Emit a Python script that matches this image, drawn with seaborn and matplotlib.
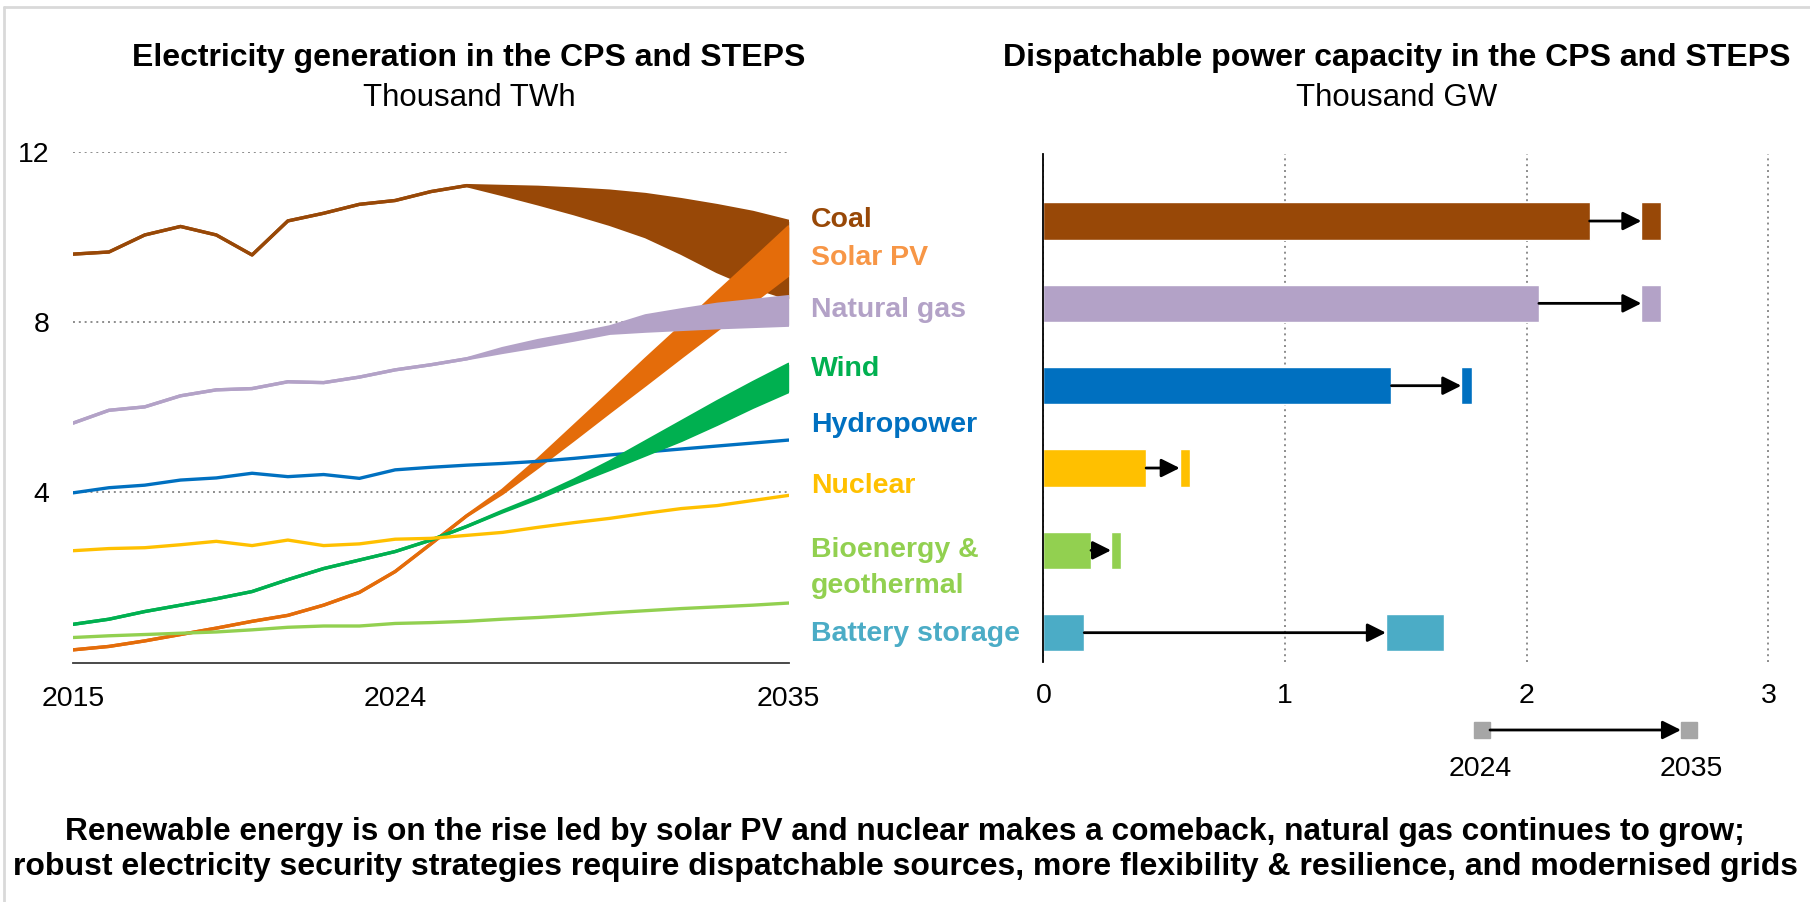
"""Electricity generation and dispatchable capacity, CPS vs STEPS."""
import matplotlib
matplotlib.use("Agg")
import matplotlib.pyplot as plt
import seaborn as sns
from matplotlib.lines import Line2D
from matplotlib.patches import Rectangle, FancyArrowPatch

# ---- left panel data (thousand TWh) ----
years = list(range(2015, 2036))

coal_cps = [9.60, 9.65, 10.05, 10.25, 10.05, 9.58, 10.38, 10.56, 10.77, 10.86, 11.07,
            11.21, 11.19, 11.17, 11.13, 11.08, 11.00, 10.88, 10.74, 10.58, 10.37]
coal_steps = [9.60, 9.65, 10.05, 10.25, 10.05, 9.58, 10.38, 10.56, 10.77, 10.86, 11.07,
              11.21, 11.00, 10.78, 10.55, 10.30, 10.01, 9.62, 9.19, 8.83, 8.56]
solar_cps = [0.30, 0.38, 0.51, 0.66, 0.81, 0.97, 1.11, 1.35, 1.65, 2.14, 2.79,
             3.45, 3.98, 4.60, 5.24, 5.89, 6.53, 7.18, 7.82, 8.47, 9.11]
solar_steps = [0.30, 0.38, 0.51, 0.66, 0.81, 0.97, 1.11, 1.35, 1.65, 2.14, 2.79,
               3.45, 4.05, 4.78, 5.56, 6.34, 7.13, 7.90, 8.69, 9.46, 10.24]
gas_cps = [5.63, 5.93, 6.01, 6.27, 6.41, 6.44, 6.60, 6.58, 6.71, 6.88, 7.00,
           7.14, 7.38, 7.57, 7.72, 7.89, 8.15, 8.29, 8.42, 8.51, 8.60]
gas_steps = [5.63, 5.93, 6.01, 6.27, 6.41, 6.44, 6.60, 6.58, 6.71, 6.88, 7.00,
             7.14, 7.29, 7.43, 7.58, 7.74, 7.79, 7.83, 7.87, 7.90, 7.93]
wind_cps = [0.90, 1.02, 1.20, 1.35, 1.50, 1.67, 1.95, 2.21, 2.41, 2.61, 2.88,
            3.20, 3.54, 3.86, 4.21, 4.54, 4.88, 5.22, 5.60, 6.00, 6.37]
wind_steps = [0.90, 1.02, 1.20, 1.35, 1.50, 1.67, 1.95, 2.21, 2.41, 2.61, 2.88,
              3.20, 3.56, 3.90, 4.29, 4.72, 5.19, 5.66, 6.13, 6.58, 7.01]
hydro = [3.99, 4.11, 4.17, 4.29, 4.34, 4.45, 4.37, 4.42, 4.33, 4.53, 4.59,
         4.64, 4.68, 4.73, 4.80, 4.88, 4.95, 5.02, 5.09, 5.16, 5.23]
nuclear = [2.63, 2.68, 2.70, 2.77, 2.85, 2.75, 2.88, 2.75, 2.79, 2.90, 2.92,
           2.99, 3.06, 3.18, 3.29, 3.39, 3.51, 3.62, 3.69, 3.81, 3.93]
bio = [0.59, 0.63, 0.66, 0.69, 0.72, 0.77, 0.83, 0.86, 0.86, 0.92, 0.94,
       0.97, 1.02, 1.06, 1.11, 1.17, 1.22, 1.27, 1.31, 1.35, 1.40]
year_ticks = [2015, 2024, 2035]

# ---- right panel data (thousand GW) ----
cap_labels = ["Coal", "Natural gas", "Hydropower", "Nuclear",
              "Bioenergy & geothermal", "Battery storage"]
cap_2024 = [2.26, 2.05, 1.44, 0.425, 0.197, 0.169]
cap_2035_low = [2.474, 2.474, 1.729, 0.564, 0.280, 1.417]
cap_2035_high = [2.556, 2.556, 1.774, 0.607, 0.321, 1.656]

C_COAL, C_SOLAR, C_GAS = "#984807", "#E46C0A", "#B3A2C7"
C_WIND, C_HYDRO, C_NUC = "#00B050", "#0070C0", "#FFC000"
C_BIO, C_BAT = "#92D050", "#4BACC6"
cap_colors = [C_COAL, C_GAS, C_HYDRO, C_NUC, C_BIO, C_BAT]

sns.set_theme(style="white")
plt.rcParams["font.family"] = ["Liberation Sans", "DejaVu Sans"]
plt.rcParams["text.color"] = "black"

fig = plt.figure(figsize=(18.1, 9.02), dpi=100)
ax1 = fig.add_axes([0.04044, 0.26541, 0.39530, 0.56608])
ax2 = fig.add_axes([0.57646, 0.26608, 0.40328, 0.56364])

# ---- left: generation lines and scenario bands ----
lw = 2.4
bands = [(coal_cps, coal_steps, C_COAL, 2), (solar_cps, solar_steps, C_SOLAR, 3),
         (gas_cps, gas_steps, C_GAS, 4), (wind_cps, wind_steps, C_WIND, 6)]
for cps, steps, col, z in bands:
    sns.lineplot(x=years, y=cps, color=col, lw=lw, ax=ax1, zorder=z)
    sns.lineplot(x=years, y=steps, color=col, lw=lw, ax=ax1, zorder=z)
    ax1.fill_between(years, cps, steps, color=col, lw=0, zorder=z)
for vals, col, z in [(hydro, C_HYDRO, 5), (nuclear, C_NUC, 7), (bio, C_BIO, 8)]:
    sns.lineplot(x=years, y=vals, color=col, lw=lw, ax=ax1, zorder=z)

ax1.set_xlim(2015, 2035)
ax1.set_ylim(0, 12)
ax1.set_xticks(year_ticks)
ax1.set_xticklabels([str(y) for y in year_ticks])
ax1.set_yticks([4, 8, 12])
ax1.set_yticklabels(["4", "8", "12"])
ax1.grid(axis="y", ls=(0, (1, 2)), color="#8c8c8c", lw=1.4)
ax1.grid(axis="x", visible=False)
ax1.set_axisbelow(True)
ax1.tick_params(axis="both", length=0, labelsize=20.5, colors="black")
ax1.tick_params(axis="x", pad=17)
ax1.tick_params(axis="y", pad=17)
for s in ["left", "top", "right"]:
    ax1.spines[s].set_visible(False)
ax1.spines["bottom"].set_color("#3a3a3a")
ax1.spines["bottom"].set_linewidth(1.3)
ax1.set_xlabel("")
ax1.set_ylabel("")

# ---- right: capacity bars 2024 -> 2035 ----
sns.barplot(x=cap_2024, y=cap_labels, hue=cap_labels, palette=cap_colors,
            legend=False, width=0.455, orient="h", saturation=1, ax=ax2)
pos = list(range(len(cap_labels)))
ax2.barh(pos, [h - l for l, h in zip(cap_2035_low, cap_2035_high)],
         left=cap_2035_low, height=0.455, color=cap_colors, zorder=3)
for i in pos:
    ax2.annotate("", xy=(cap_2035_low[i], i), xytext=(cap_2024[i], i),
                 arrowprops=dict(arrowstyle="-|>", color="black", lw=2,
                                 mutation_scale=28, shrinkA=0, shrinkB=0),
                 zorder=4)

ax2.set_xlim(0, 3.02)
ax2.set_ylim(5.356, -0.819)
ax2.set_xticks([0, 1, 2, 3])
ax2.set_xticklabels(["0", "1", "2", "3"])
ax2.set_yticks([])
ax2.grid(axis="x", ls=(0, (1, 2)), color="#8c8c8c", lw=1.4)
ax2.grid(axis="y", visible=False)
ax2.set_axisbelow(True)
ax2.tick_params(axis="x", length=0, labelsize=20.5, colors="black", pad=15)
for s in ["bottom", "top", "right"]:
    ax2.spines[s].set_visible(False)
ax2.spines["left"].set_color("black")
ax2.spines["left"].set_linewidth(1.3)
ax2.spines["left"].set_zorder(5)
ax2.set_xlabel("")
ax2.set_ylabel("")

# ---- series labels between the panels ----
lab_kw = dict(fontsize=20.5, weight="bold", ha="left", va="baseline")
series_labels = [("Coal", C_COAL, 0.7487), ("Solar PV", "#F79646", 0.7062),
                 ("Natural gas", C_GAS, 0.6482), ("Wind", C_WIND, 0.5835),
                 ("Hydropower", C_HYDRO, 0.5214), ("Nuclear", C_NUC, 0.4531),
                 ("Bioenergy &", C_BIO, 0.3828), ("geothermal", C_BIO, 0.3422),
                 ("Battery storage", C_BAT, 0.2889)]
for txt, col, y in series_labels:
    fig.text(0.448, y, txt, color=col, **lab_kw)

# ---- titles and caption ----
fig.text(0.2591, 0.9264, "Electricity generation in the CPS and STEPS",
         ha="center", va="baseline", fontsize=23, weight="bold", color="black")
fig.text(0.2591, 0.8825, "Thousand TWh", ha="center", va="baseline",
         fontsize=22.5, color="black")
fig.text(0.7718, 0.9264, "Dispatchable power capacity in the CPS and STEPS",
         ha="center", va="baseline", fontsize=23, weight="bold", color="black")
fig.text(0.7718, 0.8825, "Thousand GW", ha="center", va="baseline",
         fontsize=22.5, color="black")
fig.text(0.5, 0.0687, "Renewable energy is on the rise led by solar PV and nuclear makes "
         "a comeback, natural gas continues to grow;",
         ha="center", va="baseline", fontsize=22.8, weight="bold", color="black")
fig.text(0.5, 0.0299, "robust electricity security strategies require dispatchable sources, "
         "more flexibility & resilience, and modernised grids",
         ha="center", va="baseline", fontsize=23, weight="bold", color="black")

# ---- year legend (2024 -> 2035) ----
for x0 in (0.81436, 0.92873):
    fig.add_artist(Rectangle((x0, 0.18182), 0.00884, 0.01774, color="#A6A6A6",
                             transform=fig.transFigure))
fig.add_artist(FancyArrowPatch((0.82320, 0.19069), (0.92873, 0.19069),
                               transform=fig.transFigure, arrowstyle="-|>",
                               mutation_scale=28, lw=2, color="black",
                               shrinkA=0, shrinkB=0))
fig.text(0.8177, 0.1397, "2024", ha="center", va="baseline", fontsize=20.5,
         color="black")
fig.text(0.9343, 0.1397, "2035", ha="center", va="baseline", fontsize=20.5,
         color="black")

# ---- light frame (top and left edges) ----
fig.add_artist(Line2D([4 / 1810, 4 / 1810], [0, 1 - 7 / 902], color="#d9d9d9",
                      lw=2, transform=fig.transFigure))
fig.add_artist(Line2D([4 / 1810, 1], [1 - 7 / 902, 1 - 7 / 902], color="#d9d9d9",
                      lw=2, transform=fig.transFigure))

fig.savefig("out.png", dpi=100, facecolor="white")
plt.close(fig)
